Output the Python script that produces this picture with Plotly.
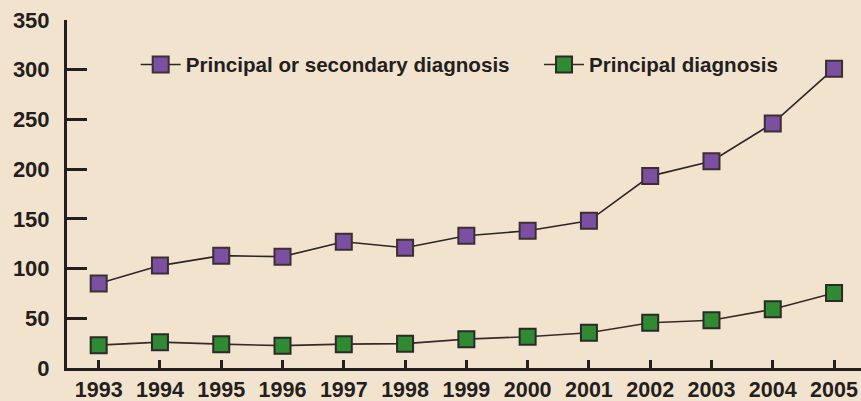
import plotly.graph_objects as go

years = [1993, 1994, 1995, 1996, 1997, 1998, 1999, 2000, 2001, 2002, 2003, 2004, 2005]
principal_or_secondary = [85, 103, 113, 112, 127, 121, 133, 138, 148, 193, 208, 246, 301]
principal = [23, 26, 24, 22.5, 24, 24.5, 29, 31.5, 35.5, 45.5, 48, 59, 75.5]
y_ticks = [0, 50, 100, 150, 200, 250, 300, 350]
series_names = ["Principal or secondary diagnosis", "Principal diagnosis"]

BG = "#f2e3cf"
INK = "#231f20"
NUM_FONT = "Liberation Sans, Arial, sans-serif"
LEG_FONT = "Liberation Sans Narrow, Arial Narrow, Liberation Sans, sans-serif"

fig = go.Figure()
fig.add_trace(go.Scatter(
    x=years, y=principal_or_secondary, name=series_names[0], mode="lines+markers",
    line=dict(color="#2b2626", width=1.6),
    marker=dict(symbol="square", size=16, color="#7b50a3", line=dict(color="#3a3030", width=2)),
    legend="legend",
))
fig.add_trace(go.Scatter(
    x=years, y=principal, name=series_names[1], mode="lines+markers",
    line=dict(color="#3a2828", width=1.6),
    marker=dict(symbol="square", size=16, color="#2f8a32", line=dict(color="#2a2a2a", width=2)),
    legend="legend2",
))

leg_common = dict(
    orientation="h", yanchor="middle", xanchor="left",
    bgcolor="rgba(0,0,0,0)", itemwidth=40,
    font=dict(family=LEG_FONT, size=20.6, color=INK, weight="bold"),
)

fig.update_layout(
    width=861, height=401,
    paper_bgcolor=BG, plot_bgcolor=BG,
    margin=dict(l=67, r=0, t=20, b=33),
    showlegend=True,
    legend=dict(x=0.0865, y=0.872, **leg_common),
    legend2=dict(x=0.5945, y=0.872, **leg_common),
    xaxis=dict(
        range=[1992.483, 2005.44], tickmode="array", tickvals=years,
        ticktext=[str(y) for y in years],
        showgrid=False, zeroline=False, showline=True, linecolor=INK, linewidth=3,
        ticks="inside", ticklen=8, tickwidth=3, tickcolor=INK,
        tickfont=dict(family=NUM_FONT, size=21.5, color=INK, weight="bold"),
        ticklabelstandoff=0, automargin=False,
        fixedrange=True,
    ),
    yaxis=dict(
        range=[0, 350], tickmode="array", tickvals=y_ticks,
        showgrid=False, zeroline=False, showline=True, linecolor=INK, linewidth=3,
        ticks="inside", ticklen=20, tickwidth=3, tickcolor=INK,
        tickfont=dict(family=NUM_FONT, size=22, color=INK, weight="bold"),
        ticklabelstandoff=10, automargin=False,
        fixedrange=True,
    ),
)

fig.write_html(
    "out.html",
    config={"displayModeBar": False},
    post_script="document.body.style.margin='0';document.body.style.padding='0';",
)
